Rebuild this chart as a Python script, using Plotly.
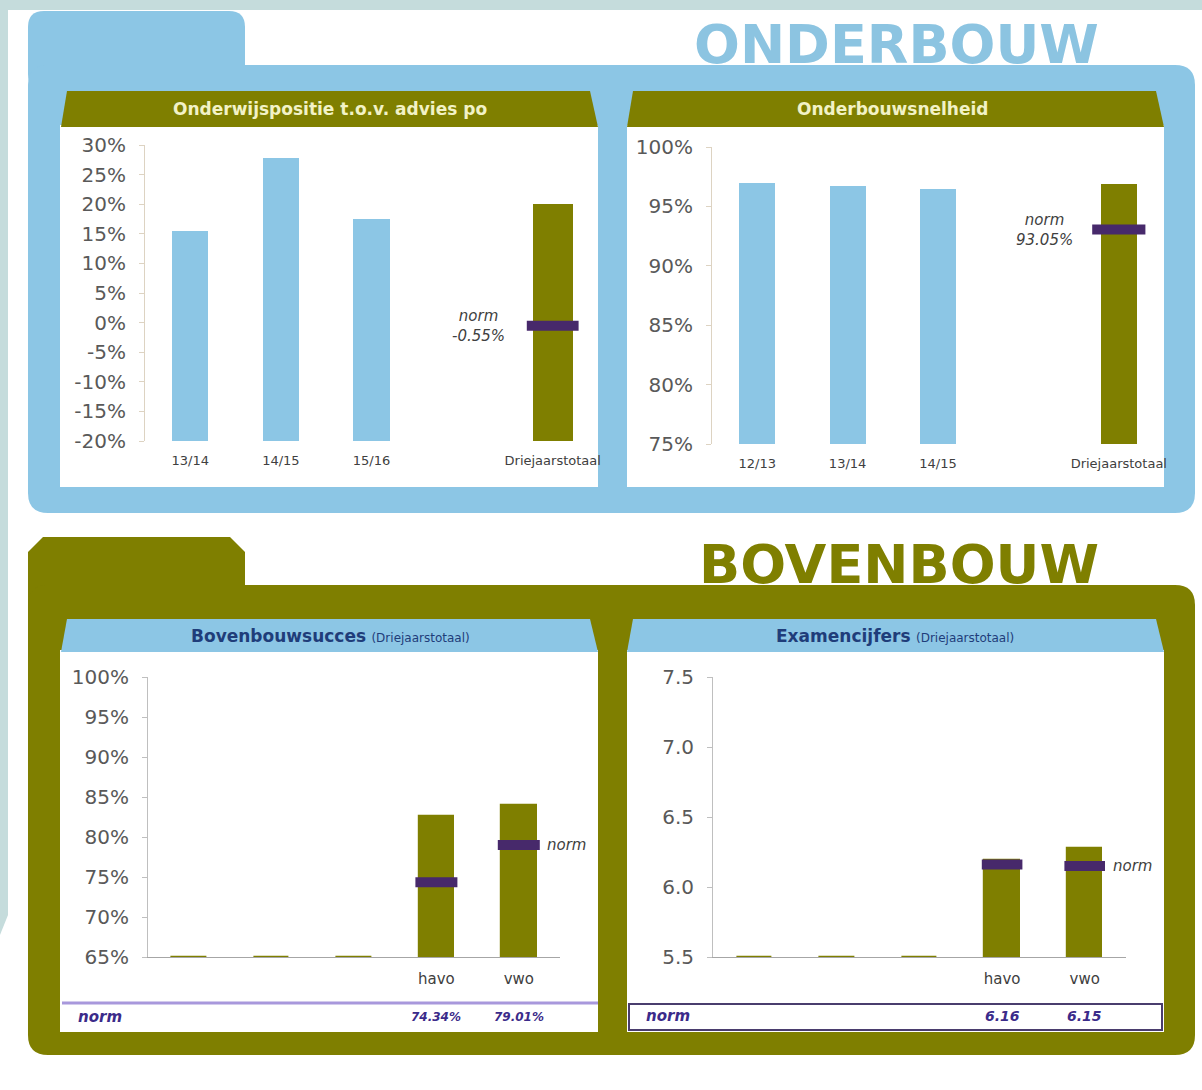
import plotly.graph_objects as go

W, H = 1202, 1090

# ---------------- data ----------------
ob_pos_cats = ["13/14", "14/15", "15/16", " ", "Driejaarstotaal"]
ob_pos_vals = [15.5, 27.8, 17.5, None, 20.0]
ob_pos_norm = -0.55
ob_pos_ticks = [30, 25, 20, 15, 10, 5, 0, -5, -10, -15, -20]
ob_pos_ticktext = ["30%", "25%", "20%", "15%", "10%", "5%", "0%", "-5%", "-10%", "-15%", "-20%"]

ob_speed_cats = ["12/13", "13/14", "14/15", " ", "Driejaarstotaal"]
ob_speed_vals = [97.0, 96.7, 96.5, None, 96.9]
ob_speed_norm = 93.05
ob_speed_ticks = [100, 95, 90, 85, 80, 75]
ob_speed_ticktext = ["100%", "95%", "90%", "85%", "80%", "75%"]

bb_succ_cats = [" ", "  ", "   ", "havo", "vwo"]
bb_succ_vals = [65.0, 65.0, 65.0, 82.6, 84.0]
bb_succ_norm = [None, None, None, 74.34, 79.01]
bb_succ_ticks = [100, 95, 90, 85, 80, 75, 70, 65]
bb_succ_ticktext = ["100%", "95%", "90%", "85%", "80%", "75%", "70%", "65%"]

exam_cats = [" ", "  ", "   ", "havo", "vwo"]
exam_vals = [5.5, 5.5, 5.5, 6.19, 6.28]
exam_norm = [None, None, None, 6.16, 6.15]
exam_ticks = [7.5, 7.0, 6.5, 6.0, 5.5]
exam_ticktext = ["7.5", "7.0", "6.5", "6.0", "5.5"]

BLUE = "#8cc6e5"
OLIVE = "#7f7f00"
PURPLE = "#47296b"
FONT = "DejaVu Sans"


def X(p):
    return p / W


def Y(p):
    return 1 - p / H


def poly(pts):
    s = "M " + " L ".join(f"{X(a):.5f},{Y(b):.5f}" for a, b in pts) + " Z"
    return s


def rrect(x0, y0, x1, y1, r):
    P = lambda a, b: f"{X(a):.5f},{Y(b):.5f}"
    return (f"M {P(x0 + r, y0)} L {P(x1 - r, y0)} Q {P(x1, y0)} {P(x1, y0 + r)} "
            f"L {P(x1, y1 - r)} Q {P(x1, y1)} {P(x1 - r, y1)} L {P(x0 + r, y1)} "
            f"Q {P(x0, y1)} {P(x0, y1 - r)} L {P(x0, y0 + r)} Q {P(x0, y0)} {P(x0 + r, y0)} Z")


shapes = []


def add_path(path, fill, line=None, lw=0):
    shapes.append(dict(type="path", xref="paper", yref="paper", path=path,
                       fillcolor=fill, line=dict(color=line or fill, width=lw), layer="below"))


def add_rect(x0, y0, x1, y1, fill, line=None, lw=0):
    shapes.append(dict(type="rect", xref="paper", yref="paper", x0=X(x0), x1=X(x1), y0=Y(y1), y1=Y(y0),
                       fillcolor=fill, line=dict(color=line or fill, width=lw), layer="below"))


# background decorations
add_rect(0, 0, 1202, 10, "#c5dcdc")
add_path(poly([(0, 0), (8, 0), (8, 915), (0, 935)]), "#c5dcdc")

# top (blue) block
add_path(rrect(28, 11, 245, 90, 16), BLUE)
add_path(rrect(28, 65, 1195, 513, 20), BLUE)
add_rect(60, 125, 598, 487, "white")
add_rect(627, 125, 1164, 487, "white")
add_path(poly([(61, 127), (67, 91), (590, 91), (598, 127)]), OLIVE)
add_path(poly([(627, 127), (633, 91), (1156, 91), (1164, 127)]), OLIVE)

# bottom (olive) block
add_path(poly([(28, 552), (43, 537), (230, 537), (245, 552), (245, 610), (28, 610)]), OLIVE)
add_path(rrect(28, 585, 1195, 1055, 20), OLIVE)
add_rect(60, 650, 598, 1032, "white")
add_rect(627, 650, 1164, 1032, "white")
add_path(poly([(61, 652), (67, 619), (590, 619), (598, 652)]), BLUE)
add_path(poly([(627, 652), (633, 619), (1156, 619), (1164, 652)]), BLUE)

# norm table rows
shapes.append(dict(type="line", xref="paper", yref="paper", x0=X(62), x1=X(598), y0=Y(1003), y1=Y(1003),
                   line=dict(color="#a898dc", width=3), layer="below"))
add_rect(629, 1004, 1162, 1030, "white", "#4a3d6e", 2)

fig = go.Figure()


def axis_names(i):
    return ("x" if i == 1 else f"x{i}"), ("y" if i == 1 else f"y{i}")


def add_bars(i, cats, vals, base, colors, widths, line_w=0):
    xa, ya = axis_names(i)
    fig.add_trace(go.Bar(x=cats, y=[None if v is None else v - base for v in vals], base=base,
                         width=widths, marker=dict(color=colors, line=dict(color=OLIVE, width=line_w)),
                         xaxis=xa, yaxis=ya, hoverinfo="skip", showlegend=False))


def add_norm(i, cats, norms, size):
    xa, ya = axis_names(i)
    fig.add_trace(go.Scatter(x=cats, y=norms, mode="markers", xaxis=xa, yaxis=ya,
                             marker=dict(symbol="line-ew", size=size, line=dict(color=PURPLE, width=10)),
                             hoverinfo="skip", showlegend=False))


top_colors = [BLUE, BLUE, BLUE, BLUE, OLIVE]
add_bars(1, ob_pos_cats, ob_pos_vals, ob_pos_ticks[-1], top_colors, [0.4, 0.4, 0.4, 0.4, 0.44])
add_norm(1, [ob_pos_cats[-1]], [ob_pos_norm], 37)
add_bars(2, ob_speed_cats, ob_speed_vals, ob_speed_ticks[-1], top_colors, [0.4, 0.4, 0.4, 0.4, 0.4])
add_norm(2, [ob_speed_cats[-1]], [ob_speed_norm], 38)
add_bars(3, bb_succ_cats, bb_succ_vals, bb_succ_ticks[-1], OLIVE, 0.43, 1.2)
add_norm(3, bb_succ_cats, bb_succ_norm, 30)
add_bars(4, exam_cats, exam_vals, exam_ticks[-1], OLIVE, 0.43, 1.2)
add_norm(4, exam_cats, exam_norm, 29)

TICKC = "#595959"


def yaxis(dom, rng, tv, tt, lc):
    return dict(domain=[Y(dom[1]), Y(dom[0])], range=rng, tickvals=tv, ticktext=tt, showgrid=False,
                zeroline=False, showline=True, linecolor=lc, linewidth=1, ticks="outside", ticklen=5,
                tickcolor=lc, tickfont=dict(size=20, color=TICKC, family=FONT), ticklabelstandoff=9,
                fixedrange=True)


def xaxis(dom, cats, anchor, showline, fs, standoff):
    return dict(domain=[X(dom[0]), X(dom[1])], type="category", categoryorder="array", categoryarray=cats,
                range=[-0.5, len(cats) - 0.5], anchor=anchor, showgrid=False, zeroline=False,
                showline=showline, linecolor="#a6a6a6", linewidth=1, ticks="",
                tickfont=dict(size=fs, color="#404040", family=FONT), ticklabelstandoff=standoff,
                fixedrange=True)


annotations = []


def ann(text, x, y, size, color, xref="paper", yref="paper", xanchor="center", yanchor="middle", **kw):
    if xref == "paper":
        x = X(x)
    if yref == "paper":
        y = Y(y)
    annotations.append(dict(text=text, x=x, y=y, xref=xref, yref=yref, xanchor=xanchor, yanchor=yanchor,
                            showarrow=False, font=dict(size=size, color=color, family=FONT), **kw))


# section titles
ann("<b>ONDERBOUW</b>", 896, 44, 54, "#8cc4e1")
ann("<b>BOVENBOUW</b>", 899, 564, 54, OLIVE)

# panel headers
ann("<b>Onderwijspositie t.o.v. advies po</b>", 330, 109, 17, "#f2f2c6")
ann("<b>Onderbouwsnelheid</b>", 893, 109, 17, "#f2f2c6")
ann("<b>Bovenbouwsucces</b> <span style='font-size:12px'>(Driejaarstotaal)</span>", 330, 636, 17, "#1f3d7a")
ann("<b>Examencijfers</b> <span style='font-size:12px'>(Driejaarstotaal)</span>", 895, 636, 17, "#1f3d7a")

# norm labels
ann(f"<i>norm<br>{ob_pos_norm:.2f}%</i>", ob_pos_cats[-1], ob_pos_norm, 15, "#404040",
    xref="x", yref="y", xanchor="right", xshift=-46)
ann(f"<i>norm<br>{ob_speed_norm:.2f}%</i>", ob_speed_cats[-1], ob_speed_norm, 15, "#404040",
    xref="x2", yref="y2", xanchor="right", xshift=-44)
ann("<i>norm</i>", bb_succ_cats[-1], bb_succ_norm[-1], 15, "#404040", xref="x3", yref="y3",
    xanchor="left", xshift=26)
ann("<i>norm</i>", exam_cats[-1], exam_norm[-1], 15, "#404040", xref="x4", yref="y4",
    xanchor="left", xshift=26)

# norm table rows
ann("<b><i>norm</i></b>", 100, 1017, 15, "#3b2b8a")
ann("<b><i>norm</i></b>", 668, 1016, 15, "#3b2b8a")
for c, v in zip(bb_succ_cats, bb_succ_norm):
    if v is not None:
        ann(f"<b><i>{v:.2f}%</i></b>", c, 1017, 12, "#3b2b8a", xref="x3")
for c, v in zip(exam_cats, exam_norm):
    if v is not None:
        ann(f"<b><i>{v:.2f}</i></b>", c, 1016, 14, "#3b2b8a", xref="x4")

fig.update_layout(
    width=W, height=H, margin=dict(l=0, r=0, t=0, b=0, autoexpand=False),
    paper_bgcolor="white", plot_bgcolor="rgba(0,0,0,0)", showlegend=False,
    bargap=0, font=dict(family=FONT),
    shapes=shapes, annotations=annotations,
    xaxis=xaxis((145, 598), ob_pos_cats, "y", False, 13, 10),
    yaxis=yaxis((145, 441), [-20, 30], ob_pos_ticks, ob_pos_ticktext, "#ddd3c2"),
    xaxis2=xaxis((712, 1164), ob_speed_cats, "y2", False, 13, 10),
    yaxis2=yaxis((147, 444), [75, 100], ob_speed_ticks, ob_speed_ticktext, "#ddd3c2"),
    xaxis3=xaxis((148, 560), bb_succ_cats, "y3", True, 15, 8),
    yaxis3=yaxis((677, 957), [65, 100], bb_succ_ticks, bb_succ_ticktext, "#bfbfbf"),
    xaxis4=xaxis((713, 1126), exam_cats, "y4", True, 15, 8),
    yaxis4=yaxis((677, 957), [5.5, 7.5], exam_ticks, exam_ticktext, "#bfbfbf"),
)
for i in (2, 3, 4):
    fig.layout[f"yaxis{i}"].anchor = f"x{i}"
fig.layout.yaxis.anchor = "x"

fig.write_html("out.html", config={"displayModeBar": False},
               post_script="document.body.style.margin='0px';document.body.style.overflow='hidden';")
